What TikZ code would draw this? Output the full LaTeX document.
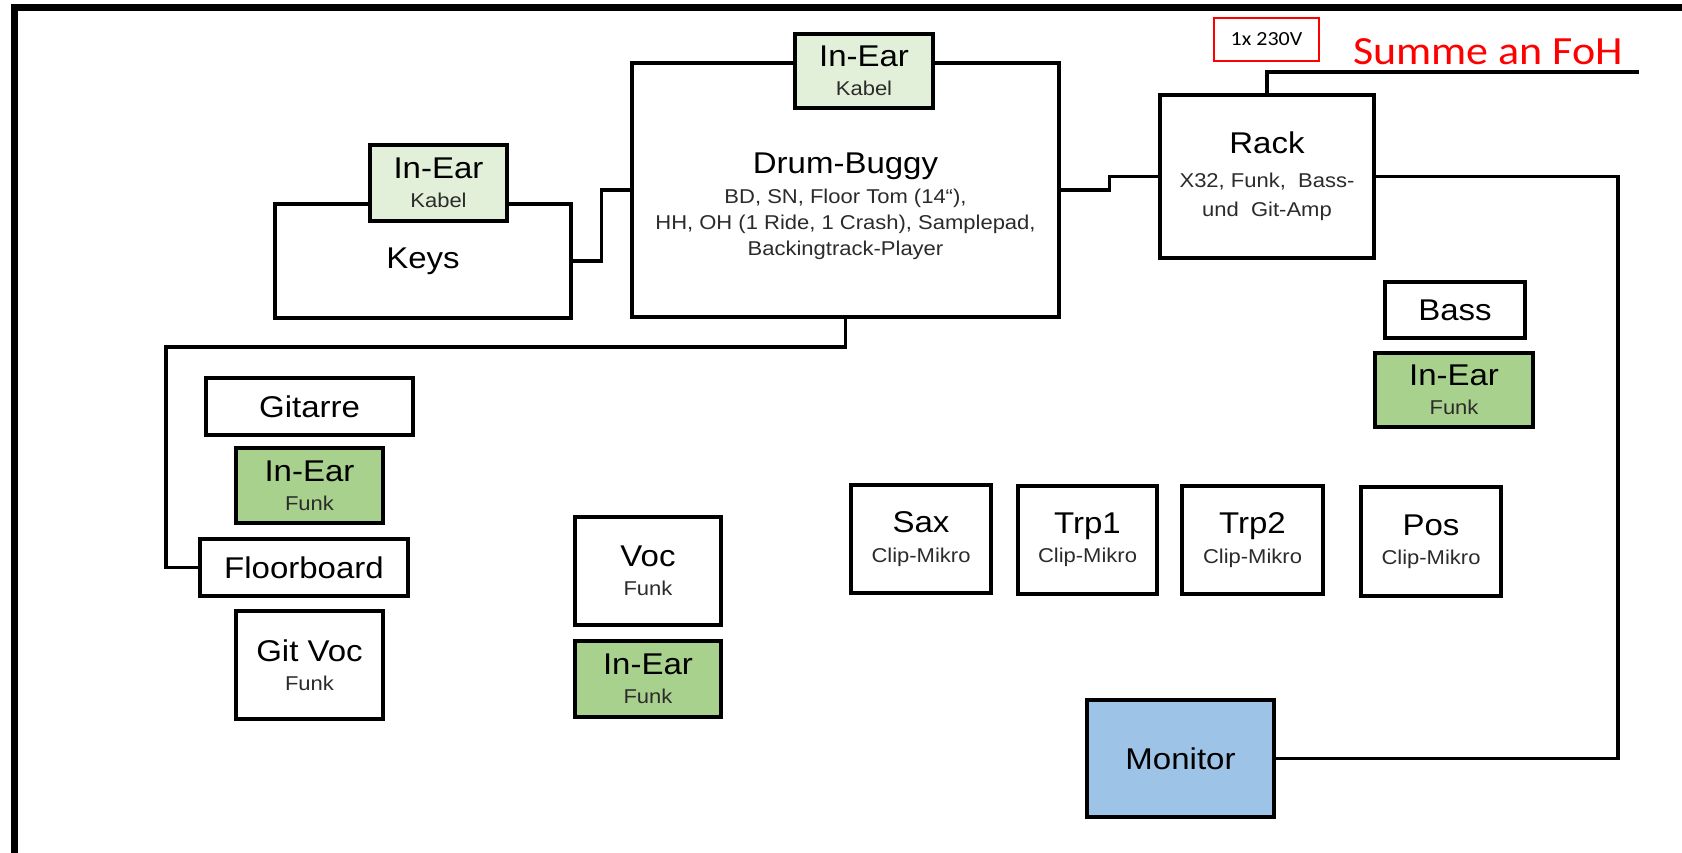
\documentclass[tikz,border=0pt]{standalone}
\usepackage{fontspec}
\setmainfont{Liberation Sans}[FakeStretch=1.1]
\newfontfamily\calibrifont{Carlito}[FakeStretch=1.1]
\usetikzlibrary{calc}

\definecolor{inearlight}{HTML}{E2F0D9}
\definecolor{inearfunk}{HTML}{A9D18E}
\definecolor{monblue}{HTML}{9DC3E6}
\definecolor{subgray}{HTML}{2B2B2B}

\newcommand{\bigtxt}{\fontsize{22.5}{22}\selectfont}
\newcommand{\smalltxt}{\fontsize{15}{19.5}\selectfont\color{subgray}}

\tikzset{
  box/.style 2 args={draw, line width=2.8pt, fill=white, align=center, inner sep=0pt,
    font=\bigtxt, minimum width=#1*0.75pt, minimum height=#2*0.75pt},
  cable/.style={line width=2.6pt},
}

\begin{document}
\begin{tikzpicture}[x=0.75pt, y=-0.75pt]
  \useasboundingbox (0,0) rectangle (1682,853);
  % stage frame
  \draw[line width=5pt] (14.5,853) -- (14.5,7.5) -- (1682,7.5);

  % back row
  \node[box={296}{114}] (keys) at (423,261) {Keys};
  \node[box={137}{76}, fill=inearlight] (inkeys) at (438.5,183) {In-Ear\\{\smalltxt Kabel}};
  \node[box={427}{254}] (drum) at (845.5,190) {};
  \node[align=center, font=\smalltxt] (drumtext) at (845.5,206)
    {{\bigtxt\color{black}Drum-Buggy}\\[3pt]BD, SN, Floor Tom (14“),\\HH, OH (1 Ride, 1 Crash), Samplepad,\\Backingtrack-Player};
  \node[box={138}{74}, fill=inearlight] (indrum) at (864,71) {In-Ear\\{\smalltxt Kabel}};
  \node[box={214}{163}] (rack) at (1267,176.5) {Rack\\[3pt]{\smalltxt X32, Funk,\ \ Bass-}\\{\smalltxt und\ \ Git-Amp}};

  % power and FoH
  \node[draw=red, line width=1.5pt, inner sep=0pt, minimum width=105*0.75pt, minimum height=43*0.75pt,
    font=\calibrifont\fontsize{15}{18}\selectfont] (power) at (1266.5,39.5) {1x 230V};
  \node[anchor=base west, inner sep=0pt, text=red, font=\calibrifont\fontsize{30}{36}\selectfont] (foh) at (1353,64) {Summe an FoH};
  \coordinate (fohend) at (1639,72);

  % bass
  \node[box={140}{56}] (bass) at (1455,310) {Bass};
  \node[box={158}{74}, fill=inearfunk] (inbass) at (1454,390) {In-Ear\\{\smalltxt Funk}};

  % horns
  \node[box={140}{108}] (sax) at (921,539) {Sax\\{\smalltxt Clip-Mikro}};
  \node[box={139}{108}] (trpa) at (1087.5,540) {Trp1\\{\smalltxt Clip-Mikro}};
  \node[box={141}{108}] (trpb) at (1252.5,540) {Trp2\\{\smalltxt Clip-Mikro}};
  \node[box={140}{109}] (pos) at (1431,541.5) {Pos\\{\smalltxt Clip-Mikro}};

  % guitar
  \node[box={207}{57}] (gitarre) at (309.5,406.5) {Gitarre};
  \node[box={147}{75}, fill=inearfunk] (ingit) at (309.5,485.5) {In-Ear\\{\smalltxt Funk}};
  \node[box={208}{57}] (floor) at (304,567.5) {Floorboard};
  \node[box={147}{108}] (gitvoc) at (309.5,665) {Git Voc\\{\smalltxt Funk}};

  % vocals
  \node[box={146}{108}] (voc) at (648,571) {Voc\\{\smalltxt Funk}};
  \node[box={146}{76}, fill=inearfunk] (invoc) at (648,679) {In-Ear\\{\smalltxt Funk}};

  \node[box={187}{117}, fill=monblue] (monitor) at (1180.5,758.5) {Monitor};

  % cables
  \coordinate (floorbend) at (166,347);
  \coordinate (monbend) at (1618,176.5);
  \draw[cable] (keys.east) -| ($(keys.east)!.5!(drum.west)$) |- (drum.west);
  \draw[cable] (drum.east) -| ($(drum.east)!.5!(rack.west)$) |- (rack.west);
  \draw[cable] (rack.north) |- (fohend);
  \draw[cable] (rack.east) -- (monbend) |- (monitor.east);
  \draw[cable] (drum.south) |- (floorbend) |- (floor.west);
\end{tikzpicture}
\end{document}
